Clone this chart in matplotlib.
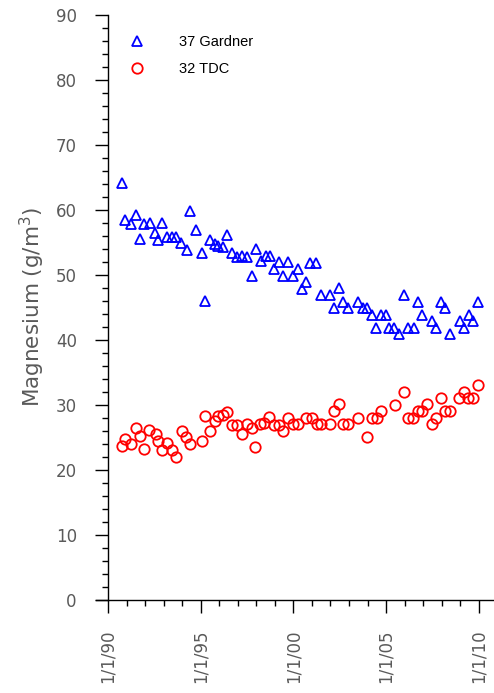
#!/usr/bin/env python3
"""Magnesium concentration over time at two wells."""
import matplotlib
matplotlib.use("Agg")
import matplotlib.pyplot as plt
from matplotlib.ticker import MultipleLocator, FixedLocator

# decimal years and values
gardner_years = [
    1990.74, 1990.92, 1991.24, 1991.49, 1991.73, 1991.92, 1992.26, 1992.53, 1992.70, 1992.91,
    1993.16, 1993.43, 1993.67, 1993.94, 1994.24, 1994.42, 1994.73, 1995.05, 1995.23, 1995.50,
    1995.77, 1995.93, 1996.20, 1996.42, 1996.68, 1996.94, 1997.21, 1997.48, 1997.75, 1997.96,
    1998.25, 1998.50, 1998.73, 1998.97, 1999.22, 1999.45, 1999.72, 1999.96, 2000.23, 2000.46,
    2000.67, 2000.89, 2001.21, 2001.48, 2001.97, 2002.18, 2002.45, 2002.67, 2002.94, 2003.48,
    2003.75, 2003.96, 2004.23, 2004.45, 2004.72, 2004.99, 2005.15, 2005.42, 2005.69, 2005.96,
    2006.17, 2006.50, 2006.71, 2006.93, 2007.47, 2007.68, 2007.95, 2008.17, 2008.44, 2008.98,
    2009.19, 2009.46, 2009.68, 2009.95,
]
gardner_mg = [
    64.2, 58.5, 57.8, 59.2, 55.5, 57.8, 58.0, 56.5, 55.4, 58.0,
    55.9, 55.9, 55.9, 54.9, 53.8, 59.8, 56.9, 53.4, 46.0, 55.4,
    54.8, 54.4, 54.3, 56.2, 53.4, 52.8, 52.9, 52.8, 49.9, 54.0,
    52.1, 52.9, 52.9, 50.9, 52.0, 49.9, 52.0, 49.9, 50.9, 47.8,
    48.9, 51.8, 51.8, 46.9, 46.9, 44.9, 48.0, 45.8, 44.9, 45.8,
    44.9, 44.9, 43.8, 41.8, 43.8, 43.8, 41.8, 41.8, 40.9, 46.9,
    41.8, 41.8, 45.8, 43.8, 42.9, 41.8, 45.8, 44.9, 40.9, 42.9,
    41.8, 43.8, 42.9, 45.8,
]

tdc_years = [
    1990.74, 1990.92, 1991.24, 1991.49, 1991.74, 1991.92, 1992.23, 1992.57, 1992.71, 1992.93,
    1993.20, 1993.47, 1993.67, 1993.97, 1994.20, 1994.42, 1995.05, 1995.23, 1995.50, 1995.77,
    1995.95, 1996.22, 1996.43, 1996.67, 1996.94, 1997.24, 1997.48, 1997.75, 1997.92, 1998.19,
    1998.43, 1998.70, 1998.95, 1999.22, 1999.45, 1999.72, 1999.99, 2000.23, 2000.67, 2000.98,
    2001.25, 2001.48, 2001.97, 2002.20, 2002.45, 2002.68, 2002.95, 2003.46, 2003.95, 2004.22,
    2004.49, 2004.72, 2005.47, 2005.96, 2006.19, 2006.46, 2006.70, 2006.94, 2007.18, 2007.45,
    2007.68, 2007.94, 2008.17, 2008.44, 2008.94, 2009.19, 2009.42, 2009.69, 2009.96,
]
tdc_mg = [
    23.7, 24.8, 24.0, 26.4, 25.3, 23.2, 26.2, 25.6, 24.4, 23.1,
    24.1, 23.1, 22.0, 26.0, 25.0, 24.0, 24.4, 28.3, 26.0, 27.6,
    28.3, 28.5, 28.9, 26.9, 26.9, 25.6, 27.1, 26.5, 23.5, 27.1,
    27.3, 28.1, 26.9, 26.9, 26.0, 28.0, 27.0, 27.0, 28.0, 28.0,
    27.0, 27.0, 27.0, 29.1, 30.1, 27.0, 27.0, 28.0, 25.0, 28.0,
    28.0, 29.1, 30.0, 32.0, 28.0, 28.0, 29.1, 29.1, 30.1, 27.0,
    28.0, 31.0, 29.1, 29.1, 31.0, 32.0, 31.0, 31.0, 33.1,
]

tick_years = [1990, 1995, 2000, 2005, 2010]
tick_labels = ["1/1/90", "1/1/95", "1/1/00", "1/1/05", "1/1/10"]

label_font = dict(family=["DejaVu Sans"], weight="normal", color="#5a5a5a")

fig = plt.figure(figsize=(4.94, 6.93), dpi=100)
ax = fig.add_axes([0.1943, 0.1342, 0.8057, 0.8442])

ax.plot(gardner_years, gardner_mg, linestyle="none", marker="^", markersize=7,
        markerfacecolor="none", markeredgecolor="#0000ff", markeredgewidth=1.3,
        label="37 Gardner")
ax.plot(tdc_years, tdc_mg, linestyle="none", marker="o", markersize=7.5,
        markerfacecolor="none", markeredgecolor="#ff0000", markeredgewidth=1.3,
        label="32 TDC")

ax.set_xlim(1989.35, 2010.82)
ax.set_ylim(0, 90)
ax.spines["left"].set_position(("data", 1990))
ax.spines["top"].set_visible(False)
ax.spines["right"].set_visible(False)
for sp in ("left", "bottom"):
    ax.spines[sp].set_linewidth(1.0)

ax.yaxis.set_major_locator(MultipleLocator(10))
ax.yaxis.set_minor_locator(MultipleLocator(2))
ax.xaxis.set_major_locator(FixedLocator(tick_years))
ax.xaxis.set_minor_locator(FixedLocator(range(1990, 2011)))
ax.set_xticks(tick_years)
ax.set_xticklabels(tick_labels, rotation=90, va="top", ha="center")

ax.tick_params(axis="y", which="major", direction="out", length=9.5, width=1, pad=13)
ax.tick_params(axis="y", which="minor", direction="out", length=4, width=1)
ax.tick_params(axis="x", which="major", direction="out", length=9.5, width=1, pad=12)
ax.tick_params(axis="x", which="minor", direction="out", length=4, width=1)

for lab in ax.get_yticklabels() + ax.get_xticklabels():
    lab.set_fontfamily(label_font["family"])
    lab.set_fontweight(label_font["weight"])
    lab.set_color(label_font["color"])
    lab.set_fontsize(12)

ax.set_ylabel("Magnesium (g/m$^3$)", fontsize=15.5, labelpad=6, **label_font)

ax.legend(loc="upper left", bbox_to_anchor=(0.222, 0.968), bbox_transform=fig.transFigure,
          frameon=False, handletextpad=1.85, labelspacing=0.85,
          prop={"family": "Liberation Sans", "size": 10.5})

fig.savefig("out.png", dpi=100)
